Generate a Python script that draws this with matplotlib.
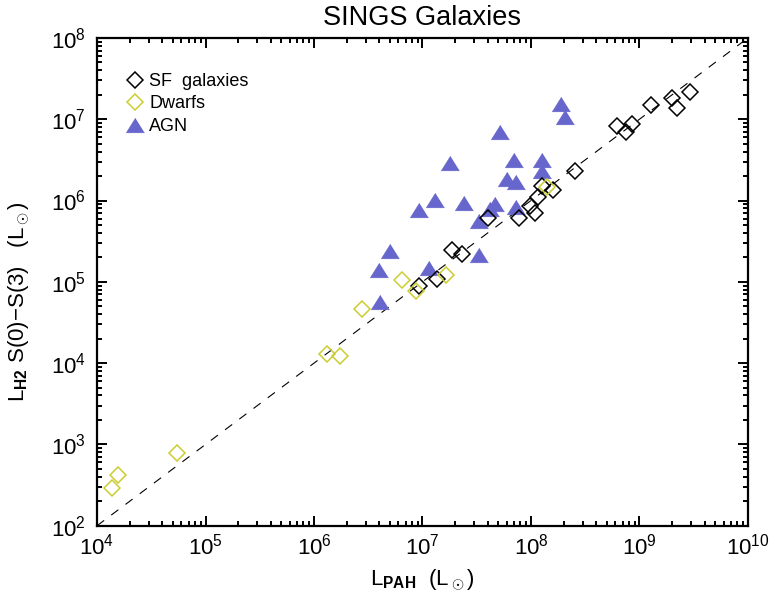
import matplotlib
matplotlib.use("Agg")
import matplotlib.pyplot as plt
from matplotlib.ticker import LogLocator, NullFormatter, LogFormatterMathtext

plt.rcParams['font.family'] = ['Liberation Sans', 'DejaVu Sans']
plt.rcParams['mathtext.fontset'] = 'custom'
plt.rcParams['mathtext.rm'] = 'Liberation Sans'
plt.rcParams['mathtext.it'] = 'Liberation Sans:italic'
plt.rcParams['mathtext.bf'] = 'Liberation Sans:bold'

# L_PAH and L_H2 values (L_sun)
sf_lpah = [2.93e9, 1.99e9, 2.21e9, 1.28e9, 6.18e8, 8.57e8, 7.54e8, 2.55e8,
           1.27e8, 1.59e8, 1.16e8, 9.84e7, 1.10e8, 7.83e7, 4.02e7, 1.86e7,
           2.29e7, 1.37e7, 9.38e6]
sf_lh2 = [2.19e7, 1.82e7, 1.38e7, 1.50e7, 8.2e6, 8.75e6, 7.03e6, 2.30e6,
          1.49e6, 1.33e6, 1.11e6, 8.58e5, 7.11e5, 6.14e5, 6.17e5, 2.47e5,
          2.20e5, 1.08e5, 8.93e4]

dw_lpah = [1.41e8, 1.63e7, 6.44e6, 8.75e6, 2.76e6, 1.31e6, 1.74e6, 5.44e4,
           1.56e4, 1.38e4]
dw_lh2 = [1.48e6, 1.23e5, 1.04e5, 7.81e4, 4.64e4, 1.30e4, 1.23e4, 7.74e2,
          4.26e2, 2.89e2]

agn_lpah = [1.88e8, 2.05e8, 5.13e7, 1.79e7, 6.90e7, 1.26e8, 1.25e8, 6.07e7,
            7.31e7, 1.30e7, 9.38e6, 2.39e7, 4.61e7, 4.15e7, 7.35e7, 3.32e7,
            5.01e6, 3.96e6, 1.16e7, 3.30e7, 4.06e6]
agn_lh2 = [1.55e7, 1.06e7, 7.03e6, 2.93e6, 3.17e6, 3.17e6, 2.32e6, 1.83e6,
           1.70e6, 1.02e6, 7.66e5, 9.27e5, 9.18e5, 7.81e5, 8.43e5, 5.60e5,
           2.41e5, 1.39e5, 1.50e5, 2.14e5, 5.71e4]

x_ticks = [1e4, 1e5, 1e6, 1e7, 1e8, 1e9, 1e10]
y_ticks = [1e2, 1e3, 1e4, 1e5, 1e6, 1e7, 1e8]

ratio_x = [1e4, 1e10]
ratio = 0.01

fig = plt.figure(figsize=(7.7, 5.99), dpi=100)
ax = fig.add_axes([0.126, 0.1223, 0.8454, 0.8144])

tri = [(0, 0.8), (-1, -0.8), (1, -0.8)]

ax.plot(ratio_x, [v * ratio for v in ratio_x], color='black', lw=0.8,
        dashes=(8, 8))
ax.plot(agn_lpah, agn_lh2, linestyle='none', marker=tri, ms=13,
        color='#6666CC', mec='#6666CC', mew=0.5, label='AGN', zorder=3)
ax.plot(sf_lpah, sf_lh2, linestyle='none', marker='D', ms=7.8,
        mfc='none', mec='black', mew=1.1, label='SF  galaxies', zorder=4)
ax.plot(dw_lpah, dw_lh2, linestyle='none', marker='D', ms=7.8,
        mfc='none', mec='#CCCC33', mew=1.1, label='Dwarfs', zorder=4)

ax.set_xscale('log')
ax.set_yscale('log')
ax.set_xlim(x_ticks[0], x_ticks[-1])
ax.set_ylim(y_ticks[0], y_ticks[-1])
ax.set_xticks(x_ticks)
ax.set_yticks(y_ticks)

for a in (ax.xaxis, ax.yaxis):
    a.set_minor_locator(LogLocator(base=10, subs=range(2, 10), numticks=20))
    a.set_minor_formatter(NullFormatter())
    a.set_major_formatter(LogFormatterMathtext())

ax.tick_params(which='both', direction='in', top=True, right=True, width=1.4)
ax.tick_params(which='major', length=7.2, labelsize=16)
ax.tick_params(axis='x', which='major', pad=6)
ax.tick_params(axis='y', which='major', pad=8)
ax.tick_params(which='minor', length=3.6)
for s in ax.spines.values():
    s.set_linewidth(1.6)

ax.set_title('SINGS Galaxies', fontsize=19.5, pad=9)
ax.set_xlabel(r'L$_{\bf PAH}$  (L$_\odot$)', fontsize=16, labelpad=5)
ax.set_ylabel(r'L$_{\bf H2}$ S(0)$-$S(3)   (L$_\odot$)', fontsize=16)
ax.yaxis.set_label_coords(-0.1, 0.46)

h, l = ax.get_legend_handles_labels()
order = [1, 2, 0]
ax.legend([h[i] for i in order], [l[i] for i in order], loc='upper left',
          frameon=False, fontsize=13, handletextpad=0.3, borderaxespad=0,
          borderpad=0, labelspacing=0.3, handlelength=1.0,
          bbox_to_anchor=(0.0445, 0.928))

fig.savefig('out.png', dpi=100)
